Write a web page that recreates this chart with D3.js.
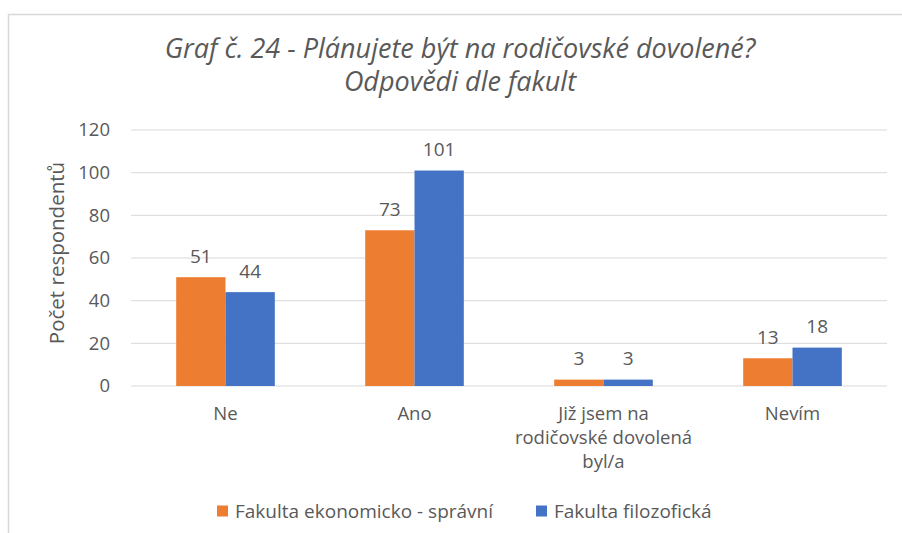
<!DOCTYPE html>
<html>
<head>
<meta charset="utf-8">
<script src="https://cdn.jsdelivr.net/npm/d3@7"></script>
<style>
  body { margin: 0; background: #fff; }
  text { font-family: "Open Sans", sans-serif; fill: #595959; }
</style>
</head>
<body>
<svg id="chart" width="902" height="533"></svg>
<script>
// data
const categories = ["Ne", "Ano", "Již jsem na rodičovské dovolená byl/a", "Nevím"];
const categoryLines = [["Ne"], ["Ano"], ["Již jsem na", "rodičovské dovolená", "byl/a"], ["Nevím"]];
const seriesNames = ["Fakulta ekonomicko - správní", "Fakulta filozofická"];
const ekonomicka = [51, 73, 3, 13];
const filozoficka = [44, 101, 3, 18];
const yTicks = [0, 20, 40, 60, 80, 100, 120];
const colors = ["#ED7D31", "#4472C4"];

const svg = d3.select("#chart");

// outer border of chart area
svg.append("rect")
  .attr("x", 8.5).attr("y", 14.5)
  .attr("width", 1000).attr("height", 1000)
  .attr("fill", "none").attr("stroke", "#d9d9d9").attr("stroke-width", 1.5);

const plotLeft = 131, plotRight = 887, plotTop = 130, plotBottom = 386;

const x = d3.scaleBand().domain(categories).range([plotLeft, plotRight]).paddingInner(0).paddingOuter(0);
const y = d3.scaleLinear().domain([0, 120]).range([plotBottom, plotTop]);
const barW = 49.3;

// gridlines
svg.append("g").selectAll("line").data(yTicks).join("line")
  .attr("x1", plotLeft).attr("x2", plotRight)
  .attr("y1", d => y(d)).attr("y2", d => y(d))
  .attr("stroke", "#d9d9d9").attr("stroke-width", 1);

// y axis labels
const yAxis = svg.append("g").attr("transform", `translate(${plotLeft},0)`)
  .call(d3.axisLeft(y).tickValues(yTicks).tickSize(0).tickPadding(21));
yAxis.select(".domain").remove();
yAxis.selectAll("text").style("font-size", "18.5px").style("font-family", "'Open Sans', sans-serif").attr("fill", "#595959");

// bars
const series = [ekonomicka, filozoficka];
series.forEach((vals, si) => {
  const g = svg.append("g");
  g.selectAll("rect").data(vals).join("rect")
    .attr("x", (d, i) => x(categories[i]) + x.bandwidth() / 2 - barW + si * barW)
    .attr("y", d => y(d))
    .attr("width", barW)
    .attr("height", d => y(0) - y(d))
    .attr("fill", colors[si]);
  g.selectAll("text").data(vals).join("text")
    .attr("x", (d, i) => x(categories[i]) + x.bandwidth() / 2 - barW / 2 + si * barW)
    .attr("y", d => y(d) - 14.5)
    .attr("text-anchor", "middle")
    .style("font-size", "19px")
    .text(d => d);
});

// x labels
categoryLines.forEach((lines, i) => {
  const t = svg.append("text")
    .attr("x", x(categories[i]) + x.bandwidth() / 2)
    .attr("y", 420)
    .attr("text-anchor", "middle")
    .style("font-size", "18.5px");
  lines.forEach((l, j) => {
    t.append("tspan").attr("x", x(categories[i]) + x.bandwidth() / 2)
      .attr("dy", j === 0 ? 0 : 24).text(l);
  });
});

// y axis title
svg.append("text")
  .attr("transform", "translate(64,253) rotate(-90)")
  .attr("text-anchor", "middle")
  .style("font-size", "20.5px")
  .text("Počet respondentů");

// title
svg.append("text")
  .attr("x", 460).attr("y", 58)
  .attr("text-anchor", "middle")
  .style("font-size", "27px").style("font-style", "italic")
  .text("Graf č. 24 - Plánujete být na rodičovské dovolené?");
svg.append("text")
  .attr("x", 460).attr("y", 91)
  .attr("text-anchor", "middle")
  .style("font-size", "27px").style("font-style", "italic")
  .text("Odpovědi dle fakult");

// legend
const legendX = [217, 536];
seriesNames.forEach((name, i) => {
  svg.append("rect").attr("x", legendX[i]).attr("y", 505.5).attr("width", 11).attr("height", 11).attr("fill", colors[i]);
  svg.append("text").attr("x", legendX[i] + 18).attr("y", 517.5).style("font-size", "19px").text(name);
});
</script>
</body>
</html>
